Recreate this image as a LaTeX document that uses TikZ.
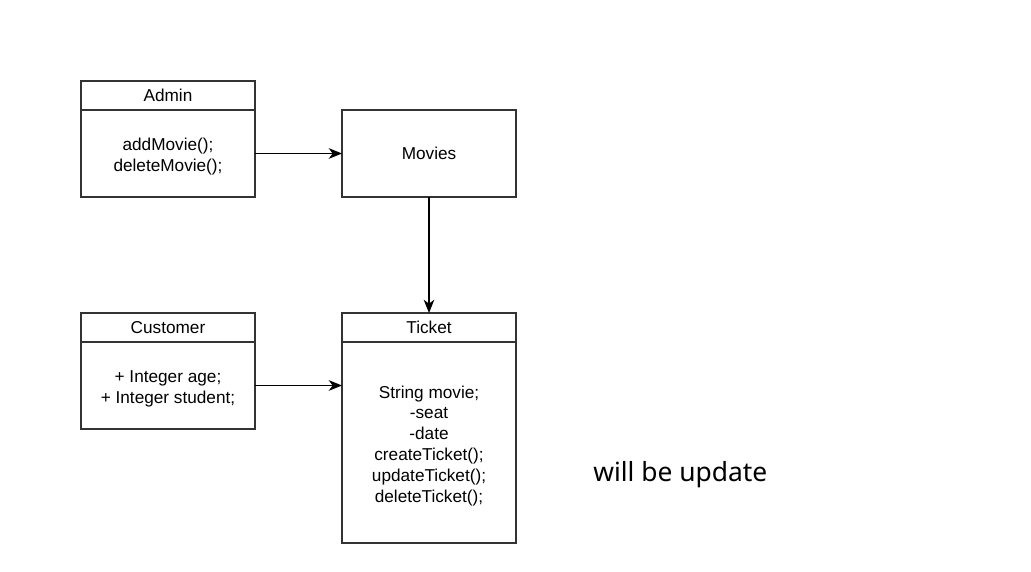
\documentclass[tikz,border=0pt]{standalone}
\usepackage{fontspec}
\setmainfont{Liberation Sans}
\newfontfamily\notefont{Noto Sans}
\usetikzlibrary{arrows.meta, positioning}
\newcommand{\mstrut}{\rule{0pt}{14pt}}
\tikzset{%
	hdr/.style={draw=black!80, line width=1pt, rectangle, minimum width=130.5pt,%
		minimum height=21.75pt, inner sep=0mm, outer sep=0mm, fill=white},
	body/.style={draw=black!80, line width=1pt, rectangle, minimum width=130.5pt,%
		minimum height=65.25pt, inner sep=0mm, outer sep=0mm, align=center, fill=white},
	sel/.style={-{Stealth[length=10pt, width=8pt, inset=3pt]}, line width=1pt},
	note/.style={inner sep=0mm, font=\notefont\fontsize{19.8pt}{24pt}\selectfont}
}
\begin{document}
\begin{tikzpicture}[x=0.75pt, y=-0.75pt,
		font=\fontsize{12.9pt}{15.6pt}\selectfont]
	\fill[white] (0,0) rectangle (1031,571);
	\useasboundingbox (0,0) rectangle (1031,571);

	\node[hdr] (adminhdr) at (168,95.5) {Admin};
	\node[body, below=0pt of adminhdr] (adminbody) {\mstrut addMovie();\\deleteMovie();};
	\node[body, right=65.25pt of adminbody] (movies) {Movies};

	\node[hdr, below=87pt of movies] (tickethdr) {Ticket};
	\node[body, below=0pt of tickethdr, minimum height=150.75pt] (ticketbody)
		{\mstrut String movie;\\-seat\\-date\\createTicket();\\updateTicket();\\deleteTicket();};
	\node[hdr, left=65.25pt of tickethdr] (custhdr) {Customer};
	\node[body, below=0pt of custhdr] (custbody) {\mstrut + Integer age;\\+ Integer student;};

	\node[note, anchor=base west] (remark) at (593,481) {will be update};

	\draw[sel] (adminbody) to (movies);
	\draw[sel] (movies) to (tickethdr);
	\draw[sel] (custbody.east) to (custbody.east -| ticketbody.west);
\end{tikzpicture}
\end{document}
